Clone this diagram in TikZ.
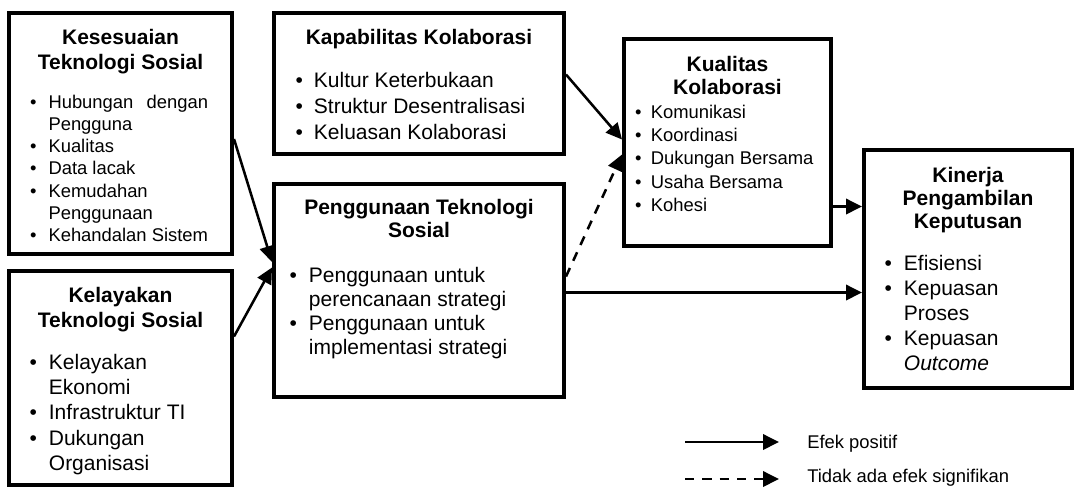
\documentclass[tikz,border=0pt]{standalone}
\usepackage{fontspec}
\setmainfont{Liberation Sans}
\usetikzlibrary{arrows.meta,calc}

% two-column bullet list: bullet, gap, item text
\newcommand{\blist}[2]{\begin{tabular}[t]{@{}l@{\hspace{#1}}l@{}}#2\end{tabular}}
% centred multi-line heading
\newcommand{\headlines}[1]{\begin{tabular}[t]{@{}c@{}}#1\end{tabular}}

\begin{document}
\begin{tikzpicture}[x=0.75pt,y=-0.75pt,
  box/.style={draw=black, line width=3pt, rectangle, inner sep=0pt, fill=white},
  ttl/.style={inner sep=0pt, anchor=base, font=\fontsize{15.75}{#1}\selectfont\bfseries},
  lst/.style 2 args={inner sep=0pt, anchor=base west, font=\fontsize{#1}{#2}\selectfont},
  conn/.style={line width=1.9pt, -{Triangle[length=12pt,width=11.5pt]}},
  dconn/.style={conn, dash pattern=on 7pt off 6pt},
  legtext/.style={inner sep=0pt, anchor=base west, font=\fontsize{13.8}{16.5}\selectfont}]

\useasboundingbox (0,0) rectangle (1076,487);

% ---- boxes ----
\node[box, minimum width=167.25pt, minimum height=180.75pt] (A) at (120.5,133.5) {};
\node[box, minimum width=167.25pt, minimum height=160.5pt]  (B) at (120.5,378) {};
\node[box, minimum width=217.5pt,  minimum height=105.75pt] (C) at (419,83.5) {};
\node[box, minimum width=217.5pt,  minimum height=159.75pt] (D) at (419,290.5) {};
\node[box, minimum width=155.25pt, minimum height=155.25pt] (E) at (727.5,142.5) {};
\node[box, minimum width=156pt,    minimum height=178.5pt]  (F) at (968,269) {};

% ---- Kesesuaian Teknologi Sosial ----
\node[ttl=18.75] (At) at (120.5,44.5) {\headlines{Kesesuaian\\Teknologi Sosial}};
\node[lst={13.8}{16.7}] (Al) at (29.8,108) {\blist{9pt}{%
  \textbullet & Hubungan\hspace{0.72em}dengan\\
              & Pengguna\\
  \textbullet & Kualitas\\
  \textbullet & Data lacak\\
  \textbullet & Kemudahan\\
              & Penggunaan\\
  \textbullet & Kehandalan Sistem}};

% ---- Kelayakan Teknologi Sosial ----
\node[ttl=18.75] (Bt) at (120.5,302.5) {\headlines{Kelayakan\\Teknologi Sosial}};
\node[lst={15.75}{19}] (Bl) at (29.3,369) {\blist{9pt}{%
  \textbullet & Kelayakan\\
              & Ekonomi\\
  \textbullet & Infrastruktur TI\\
  \textbullet & Dukungan\\
              & Organisasi}};

% ---- Kapabilitas Kolaborasi ----
\node[ttl=18.75] (Ct) at (419,44.5) {\headlines{Kapabilitas Kolaborasi}};
\node[lst={15.75}{19.5}] (Cl) at (295.3,87) {\blist{8.3pt}{%
  \textbullet & Kultur Keterbukaan\\
  \textbullet & Struktur Desentralisasi\\
  \textbullet & Keluasan Kolaborasi}};

% ---- Penggunaan Teknologi Sosial ----
\node[ttl=17.25] (Dt) at (419,214.5) {\headlines{Penggunaan Teknologi\\Sosial}};
\node[lst={15.75}{18}] (Dl) at (289.3,282) {\blist{9pt}{%
  \textbullet & Penggunaan untuk\\
              & perencanaan strategi\\
  \textbullet & Penggunaan untuk\\
              & implementasi strategi}};

% ---- Kualitas Kolaborasi ----
\node[ttl=17.25] (Et) at (727.5,71.5) {\headlines{Kualitas\\Kolaborasi}};
\node[lst={13.8}{17.6}] (El) at (634.8,118) {\blist{7pt}{%
  \textbullet & Komunikasi\\
  \textbullet & Koordinasi\\
  \textbullet & Dukungan Bersama\\
  \textbullet & Usaha Bersama\\
  \textbullet & Kohesi}};

% ---- Kinerja Pengambilan Keputusan ----
\node[ttl=17.25] (Ft) at (968,182.5) {\headlines{Kinerja\\Pengambilan\\Keputusan}};
\node[lst={15.75}{18.75}] (Fl) at (884.3,270) {\blist{9pt}{%
  \textbullet & Efisiensi\\
  \textbullet & Kepuasan\\
              & Proses\\
  \textbullet & Kepuasan\\
              & \textit{Outcome}}};

% ---- connectors ----
\draw[conn] ($(A.north east)+(0,128)$) -- ($(D.north west)+(0,80)$);
\draw[conn] ($(B.north east)+(0,67.5)$) -- ($(D.north west)+(0,85.5)$);
\draw[conn] ($(C.north east)+(0,63.5)$) -- ($(E.north west)+(0,102.5)$);
\draw[dconn] ($(D.north east)+(0,94.5)$) -- ($(E.north west)+(0,117.5)$);
\coordinate (eout) at ($(E.north east)+(0,169.5)$);
\draw[conn] (eout) -- (eout -| F.west);
\coordinate (dout) at ($(D.north east)+(0,110.5)$);
\draw[conn] (dout) -- (dout -| F.west);

% ---- legend ----
\coordinate (l1a) at (685,442);
\coordinate (l1b) at (779,442);
\coordinate (l2a) at (685,479);
\coordinate (l2b) at (779,479);
\draw[conn] (l1a) -- (l1b);
\draw[dconn] (l2a) -- (l2b);
\node[legtext] (lt1) at (807,448) {Efek positif};
\node[legtext] (lt2) at (807,482.5) {Tidak ada efek signifikan};

\end{tikzpicture}
\end{document}
